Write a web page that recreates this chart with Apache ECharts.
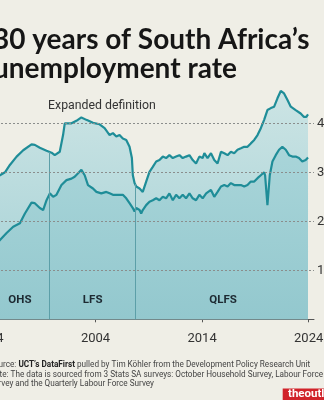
<!DOCTYPE html>
<html>
<head>
<meta charset="utf-8">
<script src="https://cdn.jsdelivr.net/npm/echarts@6/dist/echarts.min.js"></script>
<style>
  html, body { margin: 0; padding: 0; background: #efeee6; overflow: hidden; width: 324px; height: 400px; }
  #chart { position: absolute; left: -36px; top: 0; width: 400px; height: 400px; }
</style>
</head>
<body>
<div id="chart"></div>
<script>
// Unemployment rate, expanded definition (%), by survey date
const expandedYears = [1994.0, 1994.5, 1995.03, 1995.5, 1995.96, 1996.59, 1997.21, 1997.99, 1998.3, 1998.77,
  1999.4, 1999.87, 2000.17, 2000.33, 2000.64, 2000.95, 2001.11, 2001.74, 2002.2, 2002.67,
  2003.14, 2003.76, 2004.38, 2004.85, 2005.32, 2005.63, 2005.95, 2006.25, 2006.56, 2006.88,
  2007.19, 2007.41, 2007.5, 2007.66, 2007.82, 2008.13, 2008.28, 2008.43, 2008.75, 2009.06,
  2009.37, 2009.69, 2010.0, 2010.31, 2010.62, 2010.93, 2011.25, 2011.56, 2011.87, 2012.18,
  2012.49, 2012.81, 2013.12, 2013.43, 2013.74, 2014.05, 2014.21, 2014.51, 2014.83, 2015.14,
  2015.45, 2015.77, 2016.08, 2016.39, 2016.7, 2017.01, 2017.32, 2017.64, 2017.95, 2018.26,
  2018.57, 2018.89, 2019.2, 2019.51, 2019.82, 2020.13, 2020.45, 2020.76, 2021.07, 2021.38,
  2021.69, 2022.0, 2022.32, 2022.78, 2023.25, 2023.56, 2023.78, 2023.94];
const expandedRate = [27.6, 28.5, 29.4, 30.0, 31.5, 33.2, 34.5, 35.7, 35.6, 35.0,
  34.4, 34.0, 33.5, 33.4, 34.2, 37.6, 40.0, 40.0, 40.5, 41.2,
  40.7, 40.1, 39.8, 39.0, 37.6, 38.0, 37.3, 37.6, 36.9, 36.6,
  35.2, 32.9, 29.4, 27.8, 27.1, 26.7, 26.4, 26.0, 28.1, 30.1,
  31.1, 32.2, 32.5, 33.2, 32.9, 33.5, 32.9, 33.2, 33.5, 32.9,
  33.2, 33.5, 32.5, 31.8, 33.2, 32.9, 33.9, 32.9, 33.9, 32.5,
  31.8, 34.2, 33.9, 33.5, 34.2, 33.9, 34.6, 34.9, 35.2, 35.2,
  35.9, 36.6, 37.6, 39.0, 40.7, 42.7, 43.1, 43.4, 45.1, 46.6,
  46.1, 44.8, 43.4, 42.7, 42.0, 41.3, 41.3, 41.8];

// Unemployment rate, official (narrow) definition (%)
const narrowYears = [1994.0, 1994.5, 1995.03, 1995.65, 1996.27, 1996.9, 1997.37, 1997.99, 1998.3, 1998.77,
  1999.08, 1999.4, 1999.71, 2000.02, 2000.33, 2000.8, 2001.27, 2001.74, 2002.04, 2002.36,
  2002.67, 2002.98, 2003.29, 2003.76, 2004.08, 2004.54, 2005.01, 2005.32, 2005.63, 2005.95,
  2006.25, 2006.56, 2006.88, 2007.19, 2007.5, 2007.66, 2007.82, 2008.13, 2008.28, 2008.43,
  2008.75, 2009.06, 2009.37, 2009.69, 2010.0, 2010.31, 2010.62, 2010.93, 2011.25, 2011.56,
  2011.87, 2012.18, 2012.49, 2012.81, 2013.12, 2013.43, 2013.74, 2014.05, 2014.38, 2014.51,
  2014.83, 2015.14, 2015.45, 2015.77, 2016.08, 2016.39, 2016.7, 2017.01, 2017.32, 2017.64,
  2017.95, 2018.26, 2018.57, 2018.89, 2019.2, 2019.51, 2019.82, 2019.91, 2020.13, 2020.35,
  2020.6, 2020.91, 2021.22, 2021.53, 2021.85, 2022.16, 2022.47, 2022.78, 2023.09, 2023.4,
  2023.72, 2023.94];
const narrowRate = [13.8, 14.9, 16.2, 17.6, 18.9, 19.6, 21.6, 23.8, 23.7, 22.7,
  22.3, 24.3, 25.7, 25.0, 25.4, 27.4, 28.4, 28.7, 29.1, 29.8,
  30.5, 29.4, 27.4, 26.7, 26.0, 25.7, 26.0, 25.7, 25.4, 25.4,
  25.4, 25.4, 24.7, 23.7, 22.7, 22.0, 22.7, 22.3, 21.6, 22.3,
  23.3, 24.0, 24.3, 24.7, 24.3, 25.0, 24.7, 25.7, 24.3, 25.4,
  24.7, 25.4, 24.7, 25.7, 24.7, 24.3, 25.4, 24.7, 25.7, 25.4,
  26.4, 25.0, 26.0, 27.1, 27.4, 27.1, 27.8, 27.4, 27.4, 27.4,
  27.1, 27.4, 28.1, 28.1, 28.8, 29.4, 30.0, 29.4, 23.3, 29.4,
  32.2, 33.5, 34.6, 35.2, 34.6, 33.5, 33.2, 33.2, 32.9, 32.2,
  32.5, 33.0];

// Survey periods and the dates where one survey replaced another
const surveyNames = ['OHS', 'LFS', 'QLFS'];
const surveyLabelYears = [1996.9, 2003.73, 2015.96];
const surveyBreaks = [1999.7, 2007.7];

const xTickYears = [1994, 2004, 2014, 2024];
const yTickValues = [10, 20, 30, 40];

const zip = (xs, ys) => xs.map((x, i) => [x, ys[i]]);
const expandedData = zip(expandedYears, expandedRate);
const narrowData = zip(narrowYears, narrowRate);

// value of the expanded series at a given date (for the survey divider height)
function expandedAt(t) {
  for (let i = 1; i < expandedYears.length; i++) {
    if (expandedYears[i] >= t) {
      const f = (t - expandedYears[i - 1]) / (expandedYears[i] - expandedYears[i - 1]);
      return expandedRate[i - 1] + f * (expandedRate[i] - expandedRate[i - 1]);
    }
  }
  return expandedRate[expandedRate.length - 1];
}

const LINE = '#1f8d98';
const chart = echarts.init(document.getElementById('chart'), null, { renderer: 'canvas' });

const gridTop = 74.3, gridBottom = 400 - 319.3;

chart.setOption({
  backgroundColor: '#efeee6',
  animation: false,
  title: {
    text: '30 years of South Africa\u2019s\nunemployment rate',
    left: 24, top: 20,
    textStyle: { fontFamily: 'Lato', fontWeight: 'bold', fontSize: 28, lineHeight: 29, color: '#161616' }
  },
  grid: { left: 25, right: 400 - 350, top: gridTop, bottom: gridBottom, containLabel: false },
  xAxis: {
    type: 'value', min: 1994, max: 2024.5,
    axisLine: { show: true, lineStyle: { color: '#555', width: 1 } },
    axisTick: { show: true, customValues: xTickYears, length: 3, lineStyle: { color: '#555' } },
    axisLabel: { customValues: xTickYears, margin: 13, fontFamily: 'Roboto', fontSize: 13, color: '#333',
      formatter: v => String(Math.round(v)) },
    splitLine: { show: false }
  },
  yAxis: {
    type: 'value', min: 0, max: 50, position: 'right',
    axisLine: { show: false }, axisTick: { show: false },
    axisLabel: { customValues: yTickValues, margin: 3, fontFamily: 'Roboto', fontSize: 13, color: '#333',
      formatter: '{value}%' },
    splitLine: { show: false }
  },
  series: [
    {
      name: 'Expanded', type: 'line', data: expandedData, showSymbol: false, z: 2,
      lineStyle: { color: LINE, width: 2.2 },
      areaStyle: {
        color: new echarts.graphic.LinearGradient(0, 0, 0, 1, [
          { offset: 0, color: '#cce4e4' }, { offset: 1, color: '#a2d0d5' }
        ]),
        opacity: 1
      },
      markLine: {
        silent: true, symbol: 'none', label: { show: false },
        lineStyle: { color: '#5c9fa8', width: 1, type: 'solid' },
        data: surveyBreaks.map(t => [{ coord: [t, 0] }, { coord: [t, expandedAt(t)] }])
      }
    },
    {
      name: 'Narrow', type: 'line', data: narrowData, showSymbol: false, z: 3,
      lineStyle: { color: LINE, width: 2.2 },
      areaStyle: {
        color: new echarts.graphic.LinearGradient(0, 0, 0, 1, [
          { offset: 0, color: '#a9d5d9' }, { offset: 1, color: '#93c8ce' }
        ]),
        opacity: 1
      },
      markLine: {
        silent: true, symbol: 'none', label: { show: false }, z: 10,
        lineStyle: { color: '#8a8d8c', width: 1, type: [2, 2] },
        data: yTickValues.map(v => ({ yAxis: v }))
      }
    }
  ],
  graphic: [
    { type: 'text', x: 138, y: 106, z: 20,
      style: { text: 'Expanded definition', font: '12.3px Roboto', fill: '#333', textAlign: 'center', textVerticalAlign: 'middle' } },
    ...surveyNames.map((n, i) => ({
      type: 'text', z: 20,
      x: 25 + (surveyLabelYears[i] - 1994) * (325 / 30.5), y: 300,
      style: { text: n, font: 'bold 11.5px Roboto', fill: '#1d2a32', textAlign: 'center', textVerticalAlign: 'middle' }
    })),
    { type: 'text', x: 25, y: 360.5, z: 20,
      style: {
        text: 'Source: {b|UCT\u2019s DataFirst} pulled by Tim K\u00f6hler from the Development Policy Research Unit\n' +
              'Note: The data is sourced from 3 Stats SA surveys: October Household Survey, Labour Force\n' +
              'Survey and the Quarterly Labour Force Survey',
        font: '8.2px Roboto', fill: '#444', lineHeight: 9.5,
        rich: { b: { font: 'bold 8.2px Roboto', fill: '#222' } }
      } },
    { type: 'rect', z: 20, shape: { x: 318.7, y: 388.5, width: 90, height: 16 }, style: { fill: '#d1232a' } },
    { type: 'text', x: 324, y: 394.5, z: 21,
      style: { text: 'theoutlier', font: 'bold 11.5px Roboto', fill: '#fff', textVerticalAlign: 'middle' } }
  ]
});
</script>
</body>
</html>
